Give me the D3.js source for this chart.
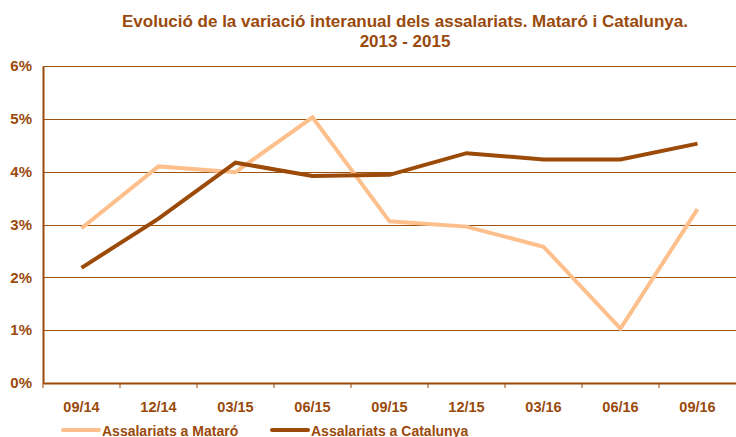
<!DOCTYPE html>
<html>
<head>
<meta charset="utf-8">
<script src="https://cdn.jsdelivr.net/npm/d3@7"></script>
<style>
  body { margin: 0; background: #fff; }
  svg { display: block; }
  text { font-family: "Liberation Sans Narrow", "Arial Narrow", "Liberation Sans", sans-serif; font-weight: bold; fill: #9a4a0c; }
</style>
</head>
<body>
<svg></svg>
<script>
const width = 736;
const height = 437;

const periods = ["09/14", "12/14", "03/15", "06/15", "09/15", "12/15", "03/16", "06/16", "09/16"];
const mataro = [2.93, 4.10, 3.99, 5.03, 3.06, 2.96, 2.58, 1.03, 3.29];
const catalunya = [2.18, 3.11, 4.17, 3.92, 3.94, 4.35, 4.23, 4.23, 4.53];
const yTicks = [0, 1, 2, 3, 4, 5, 6];
const seriesNames = ["Assalariats a Mataró", "Assalariats a Catalunya"];
const colors = ["#fdbf8c", "#9c4a08"];

const margin = {top: 66, right: 0, bottom: 54, left: 43};

const svg = d3.select("svg")
	.attr("width", width)
	.attr("height", height);

const x = d3.scaleBand()
	.domain(periods)
	.range([margin.left, width - margin.right]);

const y = d3.scaleLinear()
	.domain([0, 6])
	.range([height - margin.bottom, margin.top]);

// Title
svg.append("text")
	.attr("x", 405)
	.attr("y", 27)
	.attr("text-anchor", "middle")
	.attr("font-size", "17px")
	.text("Evolució de la variació interanual dels assalariats. Mataró i Catalunya.");
svg.append("text")
	.attr("x", 405)
	.attr("y", 47)
	.attr("text-anchor", "middle")
	.attr("font-size", "17px")
	.text("2013 - 2015");

// Gridlines
svg.append("g")
	.selectAll("line")
	.data(yTicks.filter(d => d > 0))
	.join("line")
	.attr("x1", margin.left)
	.attr("x2", width - margin.right)
	.attr("y1", d => Math.round(y(d)) + 0.5)
	.attr("y2", d => Math.round(y(d)) + 0.5)
	.attr("stroke", "#a0520f")
	.attr("stroke-width", 1.2);

// Y axis
const yAxis = svg.append("g")
	.attr("transform", `translate(${margin.left},0)`)
	.call(d3.axisLeft(y).tickValues(yTicks).tickFormat(d => d + "%").tickSize(0).tickPadding(11));
yAxis.select(".domain").attr("stroke", "#9c4a08").attr("stroke-width", 2);
yAxis.selectAll("text").attr("font-size", "15px").attr("font-family", null).attr("fill", null);

// X axis
const xAxis = svg.append("g")
	.attr("transform", `translate(0,${y(0)})`)
	.call(d3.axisBottom(x).tickSize(0).tickPadding(19));
xAxis.select(".domain").attr("stroke", "#9c4a08").attr("stroke-width", 2);
xAxis.selectAll("text").attr("font-size", "14.5px").attr("font-family", null).attr("fill", null);

// tick marks between categories
xAxis.selectAll(".sep")
	.data(periods)
	.join("line")
	.attr("class", "sep")
	.attr("x1", d => x(d))
	.attr("x2", d => x(d))
	.attr("y1", 0)
	.attr("y2", 5)
	.attr("stroke", "#9c4a08")
	.attr("stroke-width", 1);

// Lines
const line = d3.line()
	.x((d, i) => x(periods[i]) + x.bandwidth() / 2)
	.y(d => y(d));

[mataro, catalunya].forEach((s, i) => {
	svg.append("path")
		.datum(s)
		.attr("fill", "none")
		.attr("stroke", colors[i])
		.attr("stroke-width", 4)
		.attr("stroke-linejoin", "miter")
		.attr("d", line);
});

// Legend
const legendX = [63, 272];
const legend = svg.append("g")
	.selectAll("g")
	.data(seriesNames)
	.join("g")
	.attr("transform", (d, i) => `translate(${legendX[i]},430)`);
legend.append("line")
	.attr("x1", 0)
	.attr("x2", 36)
	.attr("stroke", (d, i) => colors[i])
	.attr("stroke-width", 4)
	.attr("stroke-linecap", "round");
legend.append("text")
	.attr("x", 39)
	.attr("y", 5.5)
	.attr("font-size", "14px")
	.text(d => d);
</script>
</body>
</html>
